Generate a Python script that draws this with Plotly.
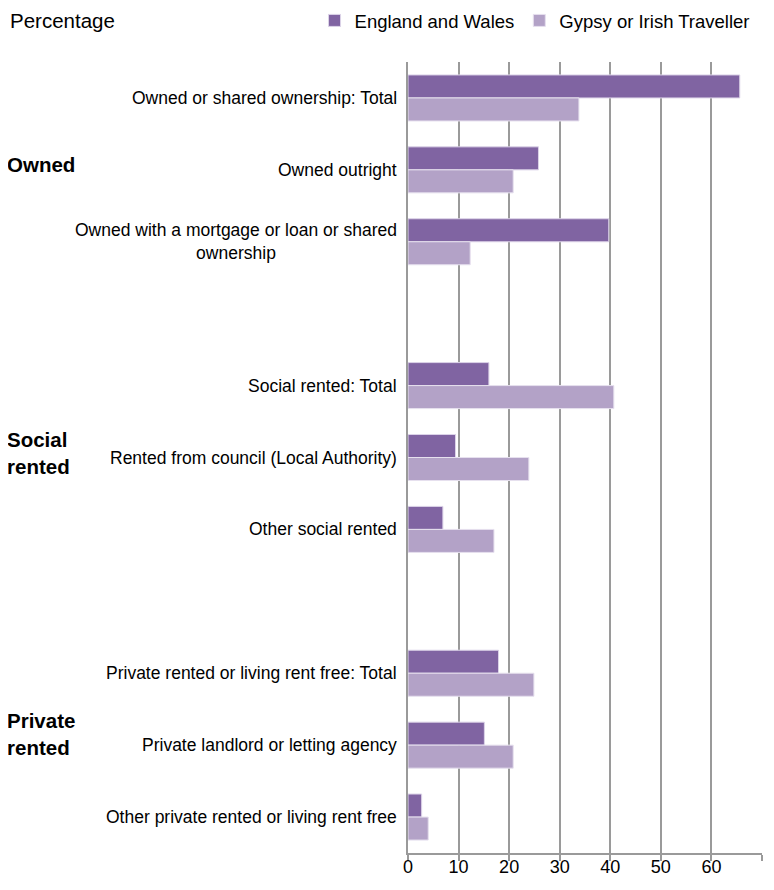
import plotly.graph_objects as go

categories = [
    "Owned or shared ownership: Total",
    "Owned outright",
    "Owned with a mortgage or loan or shared<br>ownership",
    " ",
    "Social rented: Total",
    "Rented from council (Local Authority)",
    "Other social rented",
    "  ",
    "Private rented or living rent free: Total",
    "Private landlord or letting agency",
    "Other private rented or living rent free",
]
england_wales = [65.6, 25.8, 39.7, None, 16.0, 9.4, 6.9, None, 17.9, 15.1, 2.7]
gypsy_traveller = [33.8, 20.8, 12.3, None, 40.7, 23.9, 17.0, None, 24.9, 20.8, 4.0]
series_names = ["England and Wales", "Gypsy or Irish Traveller"]
group_labels = [("Owned", "Owned outright", 5),
                ("Social<br>rented", "Rented from council (Local Authority)", 5),
                ("Private<br>rented", "Private landlord or letting agency", 11)]
x_ticks = [0, 10, 20, 30, 40, 50, 60, 70]

FONT = "Liberation Sans, Arial, sans-serif"
dark = "#8064A2"
light = "#B3A2C7"

fig = go.Figure()
fig.add_trace(go.Bar(y=categories, x=england_wales, orientation="h", name=series_names[0],
                     marker=dict(color=dark, line=dict(color="#DCD3E8", width=1))))
fig.add_trace(go.Bar(y=categories, x=gypsy_traveller, orientation="h", name=series_names[1],
                     marker=dict(color=light, line=dict(color="#E6E0EE", width=1))))

annotations = []
for c in categories:
    if c.strip():
        annotations.append(dict(x=0, xref="paper", y=c, yref="y", text=c, showarrow=False,
                                xanchor="right", yanchor="middle", align="center", xshift=-9,
                                font=dict(family=FONT, size=17.5, color="#000000")))
for text, cat, ys in group_labels:
    annotations.append(dict(x=0, xref="paper", y=cat, yref="y", text="<b>" + text + "</b>",
                            showarrow=False, xanchor="left", yanchor="middle", align="left",
                            xshift=-403, yshift=ys,
                            font=dict(family=FONT, size=20.5, color="#000000")))
annotations.append(dict(x=0, xref="paper", y=1, yref="paper", text="Percentage", showarrow=False,
                        xanchor="left", yanchor="middle", xshift=-400, yshift=42,
                        font=dict(family=FONT, size=20.5, color="#000000")))

fig.update_layout(
    width=762, height=872,
    margin=dict(l=400, r=8, t=54, b=27, autoexpand=False),
    paper_bgcolor="white", plot_bgcolor="white",
    barmode="group", bargap=0.36, bargroupgap=0.0,
    font=dict(family=FONT, size=17, color="#000000"),
    legend=dict(orientation="h", xref="paper", yref="paper", x=-0.264, xanchor="left",
                y=1.076, yanchor="top", font=dict(family=FONT, size=18.5), itemwidth=30,
                traceorder="normal", bgcolor="rgba(0,0,0,0)"),
    annotations=annotations,
    showlegend=True,
)
fig.update_xaxes(range=[0, 70], tickvals=x_ticks, showgrid=True, gridcolor="#9A9A9A", gridwidth=2,
                 showline=True, linecolor="#9A9A9A", linewidth=2, ticks="outside", ticklen=6,
                 tickcolor="#9A9A9A", tickwidth=2, tickfont=dict(family=FONT, size=18),
                 ticklabelstandoff=-10, zeroline=False, fixedrange=True)
fig.update_yaxes(categoryorder="array", categoryarray=categories, autorange="reversed",
                 showticklabels=False, showline=True, linecolor="#9A9A9A", linewidth=2,
                 showgrid=False, ticks="", fixedrange=True)

fig.write_html("out.html")
